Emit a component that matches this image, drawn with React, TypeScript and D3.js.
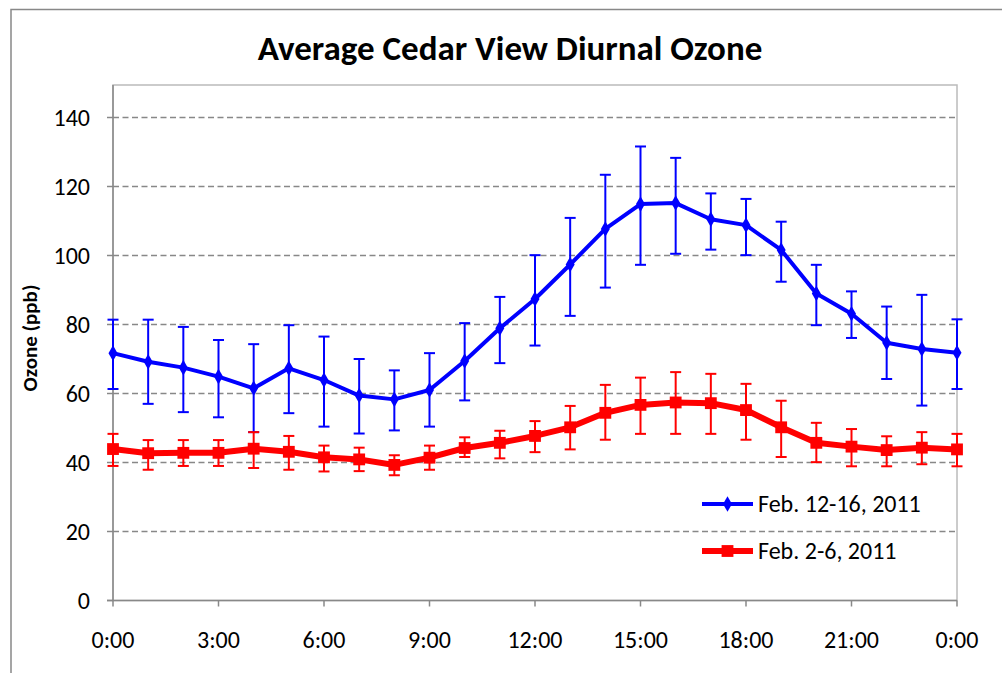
import React from 'react';
import * as d3 from 'd3';

// hours of the day, 0..24 (last point is midnight again)
const hours = d3.range(0, 25);
const xTickHours = [0, 3, 6, 9, 12, 15, 18, 21, 24];
const xTickLabels = ['0:00', '3:00', '6:00', '9:00', '12:00', '15:00', '18:00', '21:00', '0:00'];
const yTicks = [0, 20, 40, 60, 80, 100, 120, 140];

// Feb. 12-16, 2011
const febMid = [71.7, 69.2, 67.5, 64.9, 61.5, 67.3, 63.9, 59.4, 58.3, 61.0, 69.4, 78.9, 87.4,
  97.4, 107.7, 114.9, 115.2, 110.5, 108.8, 101.6, 89.0, 83.1, 74.7, 72.9, 71.8];
const febMidHi = [81.4, 81.4, 79.3, 75.5, 74.3, 79.8, 76.5, 70.0, 66.7, 71.7, 80.4, 88.0, 100.1,
  110.9, 123.4, 131.6, 128.3, 118.0, 116.4, 109.8, 97.3, 89.6, 85.2, 88.6, 81.5];
const febMidLo = [61.3, 57.0, 54.6, 53.1, 48.8, 54.3, 50.4, 48.4, 49.3, 50.4, 58.0, 68.8, 73.9,
  82.5, 90.7, 97.3, 100.5, 101.7, 100.1, 92.4, 79.8, 76.1, 64.2, 56.5, 61.3];

// Feb. 2-6, 2011
const febEarly = [43.9, 42.7, 42.8, 42.8, 44.0, 43.1, 41.5, 40.9, 39.3, 41.4, 44.2, 45.7, 47.7,
  50.2, 54.4, 56.7, 57.4, 57.2, 55.2, 50.2, 45.7, 44.6, 43.6, 44.3, 43.8];
const febEarlyHi = [48.3, 46.5, 46.5, 46.5, 48.8, 47.7, 44.9, 44.3, 42.1, 44.9, 47.3, 49.2, 52.0,
  56.4, 62.5, 64.6, 66.2, 65.7, 62.8, 57.9, 51.5, 49.7, 47.6, 48.8, 48.3];
const febEarlyLo = [39.0, 37.9, 39.0, 39.0, 38.4, 37.9, 37.4, 37.5, 36.3, 37.9, 41.6, 41.2, 43.0,
  43.8, 46.6, 48.3, 48.3, 48.3, 46.6, 41.6, 40.1, 38.9, 38.9, 39.5, 38.9];

const FONT = "Carlito, Calibri, 'Liberation Sans Narrow', 'Open Sans', sans-serif";

const W = 1002;
const H = 673;
const plot = { left: 113, right: 957, top: 85, bottom: 600.5 };

export default function App() {
  const x = d3.scaleLinear().domain([0, 24]).range([plot.left, plot.right]);
  const y = d3.scaleLinear().domain([0, 140]).range([600.5, 117.5]);

  const line = d3.line<number>().x((_, i) => x(hours[i])).y((d) => y(d));
  const diamond = d3.symbol().type(d3.symbolDiamond).size(70)()!;
  const square = d3.symbol().type(d3.symbolSquare).size(140)()!;

  const series = [
    { name: 'Feb. 12-16, 2011', vals: febMid, hi: febMidHi, lo: febMidLo, color: '#0000ff', width: 4, marker: diamond, cap: 11 },
    { name: 'Feb. 2-6, 2011', vals: febEarly, hi: febEarlyHi, lo: febEarlyLo, color: '#ff0000', width: 6, marker: square, cap: 11 },
  ];

  return (
    <svg width={W} height={H} style={{ position: 'absolute', left: 0, top: 0, background: '#fff' }}>
      {/* chart border */}
      <rect x={11} y={9.5} width={W} height={H} fill="#fff" stroke="#888" strokeWidth={1.5} />

      <text x={510} y={60} textAnchor="middle" fontFamily={FONT} fontWeight="bold" fontSize={35}>
        Average Cedar View Diurnal Ozone
      </text>

      {/* plot area border */}
      <rect x={plot.left} y={plot.top} width={plot.right - plot.left} height={plot.bottom - plot.top}
        fill="none" stroke="#bbb" strokeWidth={1.5} />

      {/* grid lines */}
      {yTicks.filter((t) => t > 0).map((t) => (
        <line key={t} x1={plot.left} x2={plot.right} y1={y(t)} y2={y(t)}
          stroke="#888" strokeWidth={1.5} strokeDasharray="6,3.5" />
      ))}

      {/* axes */}
      <line x1={plot.left} x2={plot.left} y1={plot.top} y2={plot.bottom} stroke="#888" strokeWidth={1.5} />
      <line x1={plot.left - 6} x2={plot.right} y1={plot.bottom} y2={plot.bottom} stroke="#888" strokeWidth={1.5} />
      {yTicks.map((t) => (
        <g key={t}>
          <line x1={plot.left - 6} x2={plot.left} y1={y(t)} y2={y(t)} stroke="#888" strokeWidth={1.5} />
          <text x={90} y={y(t)} dy="0.35em" textAnchor="end" fontFamily={FONT} fontSize={24}>{t}</text>
        </g>
      ))}
      {xTickHours.map((h, i) => (
        <g key={i}>
          <line x1={x(h)} x2={x(h)} y1={plot.bottom} y2={plot.bottom + 6} stroke="#888" strokeWidth={1.5} />
          <text x={x(h)} y={648} textAnchor="middle" fontFamily={FONT} fontSize={24}>{xTickLabels[i]}</text>
        </g>
      ))}

      <text transform="translate(37,338) rotate(-90)" textAnchor="middle"
        fontFamily={FONT} fontWeight="bold" fontSize={21}>
        Ozone (ppb)
      </text>

      {/* series */}
      {series.map((s) => (
        <g key={s.name}>
          {s.vals.map((_, i) => (
            <g key={i} stroke={s.color} strokeWidth={2}>
              <line x1={x(hours[i])} x2={x(hours[i])} y1={y(s.hi[i])} y2={y(s.lo[i])} />
              <line x1={x(hours[i]) - s.cap / 2} x2={x(hours[i]) + s.cap / 2} y1={y(s.hi[i])} y2={y(s.hi[i])} />
              <line x1={x(hours[i]) - s.cap / 2} x2={x(hours[i]) + s.cap / 2} y1={y(s.lo[i])} y2={y(s.lo[i])} />
            </g>
          ))}
          <path d={line(s.vals) ?? ''} fill="none" stroke={s.color} strokeWidth={s.width} strokeLinejoin="round" />
          {s.vals.map((v, i) => (
            <path key={i} d={s.marker} transform={`translate(${x(hours[i])},${y(v)})`} fill={s.color} />
          ))}
        </g>
      ))}

      {/* legend */}
      {series.map((s, i) => {
        const ly = 504 + i * 47;
        return (
          <g key={s.name}>
            <line x1={702} x2={753} y1={ly} y2={ly} stroke={s.color} strokeWidth={s.width} />
            <path d={s.marker} transform={`translate(727.5,${ly})`} fill={s.color} />
            <text x={758} y={ly} dy="0.35em" fontFamily={FONT} fontSize={24}>{s.name}</text>
          </g>
        );
      })}
    </svg>
  );
}
